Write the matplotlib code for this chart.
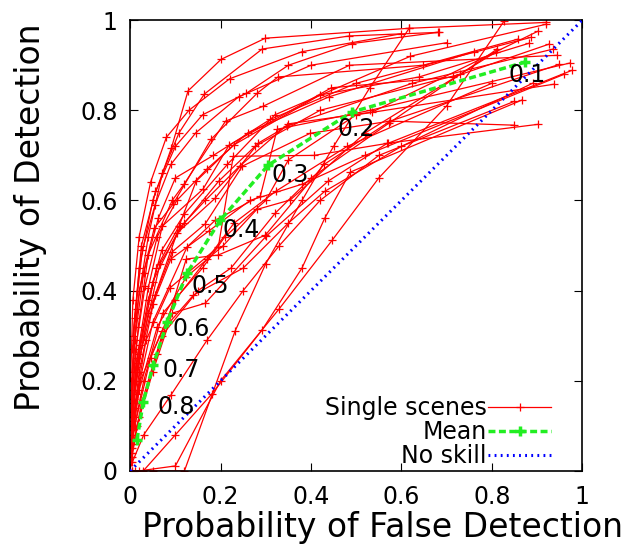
import matplotlib
matplotlib.use('Agg')
import matplotlib.pyplot as plt

# Mean ROC curve, thresholds 0.9 ... 0.1
mean_pofd = [0.015, 0.029, 0.051, 0.082, 0.126, 0.199, 0.305, 0.490, 0.874]
mean_pod = [0.069, 0.153, 0.235, 0.330, 0.439, 0.556, 0.678, 0.796, 0.907]

# Single scene ROC curves (probability of false detection / detection)
scene_pofd = [
    [0.005, 0.020, 0.050, 0.091, 0.128, 0.201, 0.299, 0.617, 0.920],
    [0.003, 0.015, 0.040, 0.071, 0.108, 0.164, 0.292, 0.485, 0.684],
    [0.004, 0.020, 0.053, 0.095, 0.179, 0.281, 0.327, 0.648, 0.858],
    [0.003, 0.018, 0.040, 0.093, 0.119, 0.211, 0.294, 0.485, 0.944],
    [0.004, 0.022, 0.058, 0.108, 0.146, 0.229, 0.420, 0.639, 0.883],
    [0.002, 0.015, 0.040, 0.071, 0.161, 0.219, 0.445, 0.715, 0.927],
    [0.003, 0.020, 0.055, 0.104, 0.188, 0.283, 0.347, 0.624, 0.936],
    [0.002, 0.012, 0.040, 0.093, 0.166, 0.248, 0.398, 0.575, 0.949],
    [0.003, 0.015, 0.050, 0.126, 0.188, 0.288, 0.325, 0.531, 0.973],
    [0.002, 0.010, 0.035, 0.088, 0.195, 0.228, 0.407, 0.571, 0.978],
    [0.003, 0.020, 0.060, 0.124, 0.195, 0.299, 0.429, 0.575, 0.850],
    [0.002, 0.015, 0.050, 0.093, 0.166, 0.301, 0.438, 0.569, 0.903],
    [0.006, 0.025, 0.056, 0.100, 0.160, 0.257, 0.350, 0.490, 0.681],
    [0.010, 0.050, 0.120, 0.232, 0.300, 0.380, 0.450, 0.530, 0.617],
    [0.005, 0.020, 0.100, 0.200, 0.330, 0.447, 0.550, 0.700, 0.827],
    [0.003, 0.029, 0.100, 0.180, 0.292, 0.380, 0.430, 0.487, 0.867],
    [0.004, 0.030, 0.072, 0.160, 0.210, 0.300, 0.350, 0.500, 0.938],
    [0.002, 0.012, 0.040, 0.070, 0.120, 0.215, 0.320, 0.620, 0.920],
    [0.003, 0.020, 0.050, 0.110, 0.166, 0.242, 0.350, 0.535, 0.903],
    [0.002, 0.010, 0.030, 0.062, 0.100, 0.184, 0.310, 0.500, 0.887],
    [0.004, 0.025, 0.070, 0.150, 0.223, 0.321, 0.400, 0.573, 0.812],
    [0.003, 0.020, 0.060, 0.124, 0.206, 0.280, 0.354, 0.520, 0.810],
    [0.001, 0.008, 0.030, 0.066, 0.120, 0.196, 0.276, 0.420, 0.730],
    [0.002, 0.010, 0.045, 0.100, 0.170, 0.230, 0.323, 0.480, 0.800],
    [0.005, 0.030, 0.090, 0.170, 0.250, 0.330, 0.420, 0.550, 0.850],
    [0.002, 0.010, 0.027, 0.055, 0.090, 0.145, 0.240, 0.400, 0.700],
    [0.001, 0.006, 0.020, 0.045, 0.080, 0.130, 0.220, 0.380, 0.600],
    [0.003, 0.018, 0.050, 0.090, 0.175, 0.265, 0.380, 0.520, 0.960],
    [0.004, 0.022, 0.070, 0.140, 0.250, 0.350, 0.430, 0.600, 0.890],
    [0.002, 0.012, 0.033, 0.060, 0.103, 0.170, 0.260, 0.440, 0.760],
]
scene_pod = [
    [0.27, 0.45, 0.60, 0.716, 0.843, 0.913, 0.960, 0.982, 0.995],
    [0.18, 0.36, 0.52, 0.660, 0.750, 0.836, 0.936, 0.965, 0.973],
    [0.22, 0.40, 0.538, 0.592, 0.736, 0.838, 0.874, 0.900, 0.958],
    [0.15, 0.32, 0.48, 0.600, 0.636, 0.776, 0.809, 0.900, 0.922],
    [0.12, 0.28, 0.45, 0.543, 0.643, 0.723, 0.834, 0.874, 0.949],
    [0.10, 0.25, 0.406, 0.543, 0.625, 0.723, 0.850, 0.874, 0.947],
    [0.08, 0.22, 0.39, 0.528, 0.605, 0.727, 0.765, 0.860, 0.936],
    [0.06, 0.20, 0.35, 0.486, 0.548, 0.676, 0.749, 0.776, 0.902],
    [0.05, 0.17, 0.33, 0.497, 0.556, 0.610, 0.758, 0.800, 0.905],
    [0.04, 0.14, 0.29, 0.406, 0.497, 0.698, 0.700, 0.727, 0.889],
    [0.03, 0.12, 0.26, 0.470, 0.479, 0.523, 0.680, 0.776, 0.767],
    [0.02, 0.10, 0.22, 0.350, 0.372, 0.521, 0.643, 0.727, 0.769],
    [0.30, 0.50, 0.62, 0.720, 0.790, 0.838, 0.900, 0.948, 0.973],
    [0.00, 0.00, 0.00, 0.310, 0.460, 0.600, 0.720, 0.850, 0.982],
    [0.00, 0.00, 0.011, 0.200, 0.360, 0.512, 0.650, 0.810, 0.998],
    [0.00, 0.00, 0.08, 0.170, 0.313, 0.450, 0.560, 0.663, 0.823],
    [0.07, 0.20, 0.35, 0.450, 0.520, 0.600, 0.690, 0.790, 0.858],
    [0.09, 0.23, 0.38, 0.490, 0.570, 0.680, 0.790, 0.920, 0.991],
    [0.11, 0.26, 0.42, 0.540, 0.600, 0.676, 0.770, 0.796, 0.976],
    [0.13, 0.29, 0.44, 0.560, 0.650, 0.700, 0.780, 0.860, 0.962],
    [0.04, 0.15, 0.30, 0.400, 0.450, 0.572, 0.650, 0.772, 0.936],
    [0.06, 0.18, 0.32, 0.430, 0.500, 0.580, 0.601, 0.750, 0.930],
    [0.05, 0.16, 0.30, 0.460, 0.550, 0.643, 0.720, 0.800, 0.880],
    [0.03, 0.10, 0.25, 0.380, 0.470, 0.550, 0.621, 0.720, 0.860],
    [0.02, 0.08, 0.168, 0.290, 0.400, 0.500, 0.600, 0.700, 0.820],
    [0.16, 0.34, 0.49, 0.590, 0.680, 0.750, 0.830, 0.900, 0.950],
    [0.20, 0.38, 0.52, 0.640, 0.740, 0.800, 0.870, 0.930, 0.970],
    [0.10, 0.24, 0.37, 0.470, 0.533, 0.600, 0.636, 0.700, 0.880],
    [0.08, 0.20, 0.31, 0.390, 0.450, 0.550, 0.620, 0.720, 0.860],
    [0.12, 0.27, 0.41, 0.520, 0.600, 0.670, 0.750, 0.830, 0.930],
]

threshold_labels = ['0.1', '0.2', '0.3', '0.4', '0.5', '0.6', '0.7', '0.8']
# where gnuplot put each threshold label (data coords, left edge)
label_pos = [(0.836, 0.878), (0.458, 0.758), (0.312, 0.656), (0.204, 0.534),
             (0.135, 0.410), (0.093, 0.315), (0.071, 0.224), (0.060, 0.142)]

RED = '#ff0000'
GREEN = '#22ee22'
BLUE = '#0000ff'

fig = plt.figure(figsize=(6.35, 5.45), dpi=100)
ax = fig.add_axes([0.205, 0.136, 0.712, 0.827])

for i in range(len(scene_pofd)):
    lbl = 'Single scenes' if i == 0 else None
    ax.plot(scene_pofd[i], scene_pod[i], color=RED, lw=0.9, marker='+',
            ms=6, mew=0.9, label=lbl, zorder=2)

ax.plot(mean_pofd, mean_pod, color=GREEN, lw=2.5, ls=(0, (2, 1)),
        marker='+', ms=7, mew=2.5, label='Mean', zorder=3)
ax.plot([0, 1], [0, 1], color=BLUE, lw=2.2, ls=(0, (0.6, 1.4)),
        label='No skill', zorder=3)

for t, (lx, ly) in zip(threshold_labels, label_pos):
    ax.text(lx, ly, t, fontsize=17, ha='left', va='center', zorder=4)

ax.set_xlim(0, 1)
ax.set_ylim(0, 1)
ticks = [0, 0.2, 0.4, 0.6, 0.8, 1]
ticklabels = ['0', '0.2', '0.4', '0.6', '0.8', '1']
ax.set_xticks(ticks)
ax.set_xticklabels(ticklabels)
ax.set_yticks(ticks)
ax.set_yticklabels(ticklabels)
ax.tick_params(direction='in', top=True, right=True, length=6, labelsize=17)
ax.tick_params(axis='x', pad=10)
ax.tick_params(axis='y', pad=9)
for s in ax.spines.values():
    s.set_linewidth(1.2)

ax.set_xlabel('Probability of False Detection', fontsize=23.8)
ax.xaxis.set_label_coords(0.557, -0.088)
ax.set_ylabel('Probability of Detection', fontsize=23.8)
ax.yaxis.set_label_coords(-0.185, 0.563)

leg = ax.legend(loc='lower right', bbox_to_anchor=(0.938, 0.0), frameon=False,
                markerfirst=False, fontsize=17, handlelength=2.7,
                labelspacing=0.0, handletextpad=0.05, borderaxespad=0.0,
                borderpad=0.12)
for t in leg.get_texts():
    t.set_ha('right')

fig.savefig('out.png', dpi=100)
